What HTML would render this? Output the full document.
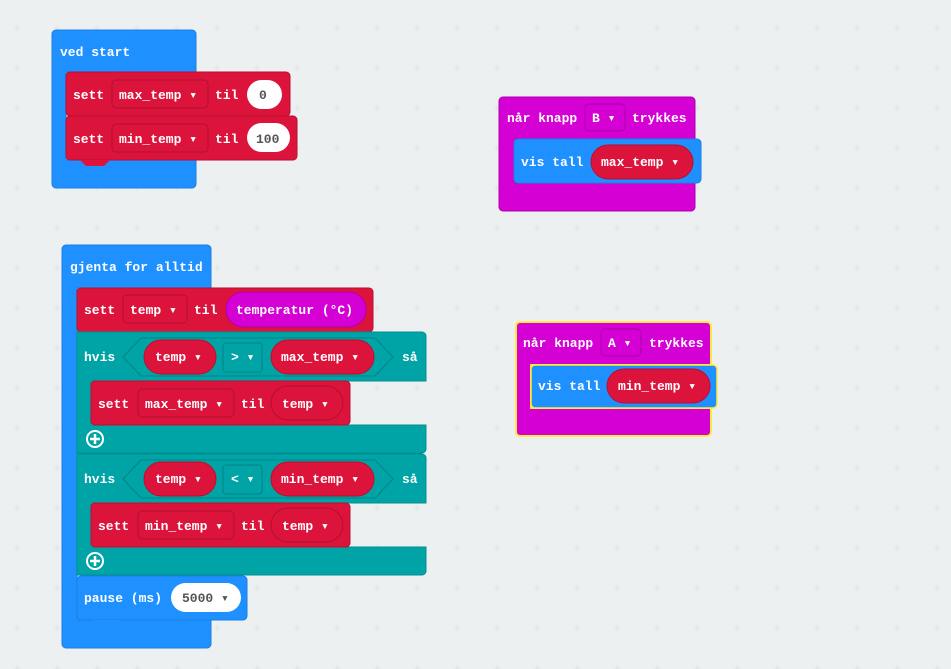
<!DOCTYPE html>
<html><head><style>
html,body{margin:0;padding:0;background:#ecf0f1}
svg{display:block}
text{font-family:"Liberation Mono",monospace;font-weight:bold;font-size:13px;fill:#fff}
</style></head><body>
<svg width="951" height="669" xmlns="http://www.w3.org/2000/svg">
<defs>
<pattern id="g" x="12" y="23" width="40" height="40" patternUnits="userSpaceOnUse">
<path d="M5 2v6M2 5h6" stroke="#e0e4e6" stroke-width="1"/>
</pattern>
</defs>
<rect width="951" height="669" fill="#ecf0f1"/>
<rect width="951" height="669" fill="url(#g)"/>

<!-- ved start -->
<path d="M56 30h136a4 4 0 0 1 4 4v38h-130v88h130v24a4 4 0 0 1 -4 4h-136a4 4 0 0 1 -4 -4v-150a4 4 0 0 1 4 -4z" fill="#1e90ff" stroke="#1a7fe0"/>
<text x="60" y="56">ved start</text>
<rect x="66" y="72" width="224" height="44" rx="4" fill="#dc143c" stroke="#b8102f"/>
<rect x="66" y="116" width="231" height="44" rx="4" fill="#dc143c" stroke="#b8102f"/>
<path d="M80 160l6 6h18l6 -6z" fill="#dc143c"/>
<text x="73" y="99">sett</text>
<rect x="112" y="80" width="96" height="28" rx="4" fill="none" stroke="#b0102f"/>
<text x="119" y="99">max_temp ▾</text>
<text x="215" y="99">til</text>
<rect x="247" y="80" width="35" height="29" rx="14.5" fill="#fff"/>
<text x="259" y="99" style="fill:#555">0</text>
<text x="73" y="143">sett</text>
<rect x="112" y="124" width="96" height="28" rx="4" fill="none" stroke="#b0102f"/>
<text x="119" y="143">min_temp ▾</text>
<text x="215" y="143">til</text>
<rect x="247" y="123" width="43" height="29" rx="14.5" fill="#fff"/>
<text x="256" y="143" style="fill:#555">100</text>

<!-- knapp B -->
<path d="M503 97h188a4 4 0 0 1 4 4v38h-181v44h181v24a4 4 0 0 1 -4 4h-188a4 4 0 0 1 -4 -4v-106a4 4 0 0 1 4 -4z" fill="#d400d4" stroke="#b000b0"/>
<text x="507" y="122">når knapp</text>
<rect x="585" y="104" width="40" height="27" rx="4" fill="none" stroke="#a800a8"/>
<text x="592" y="122">B ▾</text>
<text x="632" y="122">trykkes</text>
<rect x="514" y="139" width="187" height="44" rx="4" fill="#1e90ff" stroke="#1a7fe0"/>
<text x="521" y="166">vis tall</text>
<rect x="591" y="145" width="102" height="34" rx="17" fill="#dc143c" stroke="#b8102f"/>
<text x="601" y="166">max_temp ▾</text>

<!-- knapp A -->
<path d="M520 322h187a4 4 0 0 1 4 4v39h-180v43h180v24a4 4 0 0 1 -4 4h-187a4 4 0 0 1 -4 -4v-106a4 4 0 0 1 4 -4z" fill="#d400d4" stroke="#ffeb3b" stroke-width="2"/>
<text x="523" y="347">når knapp</text>
<rect x="601" y="329" width="40" height="27" rx="4" fill="none" stroke="#a800a8"/>
<text x="608" y="347">A ▾</text>
<text x="649" y="347">trykkes</text>
<rect x="531" y="365" width="186" height="43" rx="4" fill="#1e90ff" stroke="#ffeb3b" stroke-width="1.5"/>
<text x="538" y="390">vis tall</text>
<rect x="607" y="369" width="103" height="34" rx="17" fill="#dc143c" stroke="#b8102f"/>
<text x="618" y="390">min_temp ▾</text>

<!-- forever -->
<path d="M66 245h141a4 4 0 0 1 4 4v39h-134v332h134v24a4 4 0 0 1 -4 4h-141a4 4 0 0 1 -4 -4v-395a4 4 0 0 1 4 -4z" fill="#1e90ff" stroke="#1a7fe0"/>
<text x="70" y="271">gjenta for alltid</text>
<rect x="77" y="288" width="296" height="44" rx="4" fill="#dc143c" stroke="#b8102f"/>
<text x="84" y="314">sett</text>
<rect x="123" y="295" width="64" height="28" rx="4" fill="none" stroke="#b0102f"/>
<text x="130" y="314">temp ▾</text>
<text x="194" y="314">til</text>
<rect x="226" y="292" width="140" height="35" rx="17.5" fill="#d400d4" stroke="#b000b0"/>
<text x="236" y="314">temperatur (°C)</text>

<!-- if 1 -->
<path d="M77 332h345a4 4 0 0 1 4 4v45h-335v44h335v24a4 4 0 0 1 -4 4h-345z" fill="#00a4a6" stroke="#008f91"/>
<text x="84" y="361">hvis</text>
<path d="M141 338h234l18 19l-18 19h-234l-18 -19z" fill="none" stroke="#008385"/>
<rect x="144" y="340" width="72" height="34" rx="17" fill="#dc143c" stroke="#b8102f"/>
<text x="155" y="361">temp ▾</text>
<rect x="223" y="343" width="39" height="29" rx="3" fill="none" stroke="#008385"/>
<text x="231" y="361">&gt; ▾</text>
<rect x="271" y="340" width="103" height="34" rx="17" fill="#dc143c" stroke="#b8102f"/>
<text x="281" y="361">max_temp ▾</text>
<text x="402" y="361">så</text>
<rect x="91" y="381" width="259" height="44" rx="4" fill="#dc143c" stroke="#b8102f"/>
<text x="98" y="408">sett</text>
<rect x="138" y="389" width="96" height="28" rx="4" fill="none" stroke="#b0102f"/>
<text x="145" y="408">max_temp ▾</text>
<text x="241" y="408">til</text>
<rect x="271" y="386" width="72" height="34" rx="17" fill="none" stroke="#b0102f"/>
<text x="282" y="408">temp ▾</text>
<circle cx="95" cy="439" r="8" fill="none" stroke="#fff" stroke-width="2"/>
<path d="M95 434v10M90 439h10" stroke="#fff" stroke-width="2.5"/>

<!-- if 2 -->
<path d="M77 454h345a4 4 0 0 1 4 4v45h-335v44h335v24a4 4 0 0 1 -4 4h-345z" fill="#00a4a6" stroke="#008f91"/>
<text x="84" y="483">hvis</text>
<path d="M141 460h234l18 19l-18 19h-234l-18 -19z" fill="none" stroke="#008385"/>
<rect x="144" y="462" width="72" height="34" rx="17" fill="#dc143c" stroke="#b8102f"/>
<text x="155" y="483">temp ▾</text>
<rect x="223" y="465" width="39" height="29" rx="3" fill="none" stroke="#008385"/>
<text x="231" y="483">&lt; ▾</text>
<rect x="271" y="462" width="103" height="34" rx="17" fill="#dc143c" stroke="#b8102f"/>
<text x="281" y="483">min_temp ▾</text>
<text x="402" y="483">så</text>
<rect x="91" y="503" width="259" height="44" rx="4" fill="#dc143c" stroke="#b8102f"/>
<text x="98" y="530">sett</text>
<rect x="138" y="511" width="96" height="28" rx="4" fill="none" stroke="#b0102f"/>
<text x="145" y="530">min_temp ▾</text>
<text x="241" y="530">til</text>
<rect x="271" y="508" width="72" height="34" rx="17" fill="none" stroke="#b0102f"/>
<text x="282" y="530">temp ▾</text>
<circle cx="95" cy="561" r="8" fill="none" stroke="#fff" stroke-width="2"/>
<path d="M95 556v10M90 561h10" stroke="#fff" stroke-width="2.5"/>

<!-- pause -->
<rect x="77" y="576" width="170" height="44" rx="4" fill="#1e90ff" stroke="#1a7fe0"/>
<path d="M91 620l6 6h18l6 -6z" fill="#1e90ff"/>
<text x="84" y="602">pause (ms)</text>
<rect x="171" y="583" width="70" height="29" rx="14.5" fill="#fff"/>
<text x="182" y="602" style="fill:#555">5000 ▾</text>
</svg>
</body></html>
